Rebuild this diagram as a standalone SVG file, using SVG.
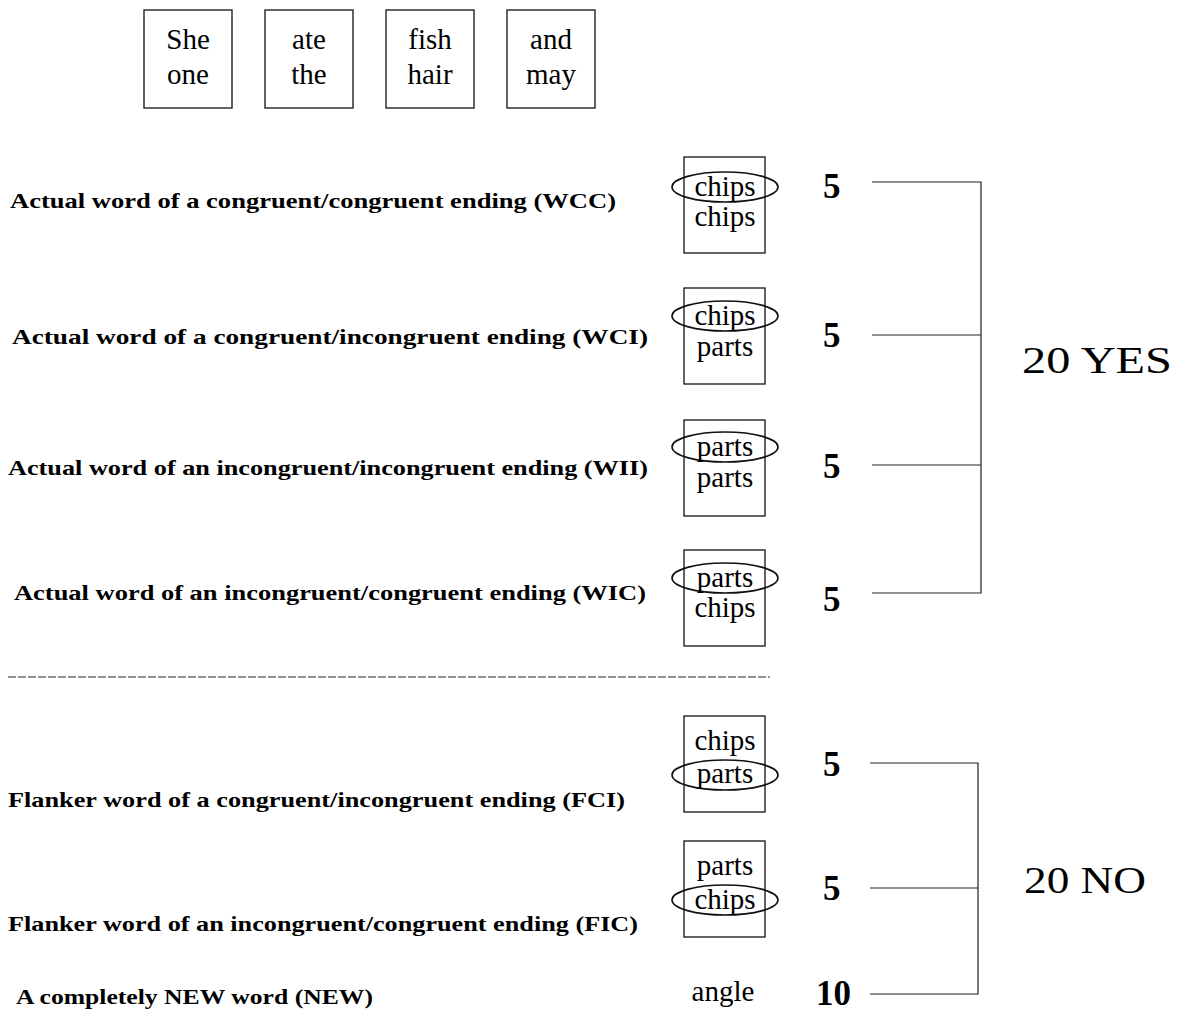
<svg xmlns="http://www.w3.org/2000/svg" width="1183" height="1012" viewBox="0 0 1183 1012">
<style>
.bx{fill:none;stroke:#111;stroke-width:1.3}
.el{fill:none;stroke:#111;stroke-width:1.6}
.w{font-family:"Liberation Serif",serif;font-size:29px;fill:#000;text-anchor:middle}
.lb{font-family:"Liberation Serif",serif;font-size:21.5px;font-weight:bold;fill:#000}
.n{font-family:"Liberation Serif",serif;font-size:35px;font-weight:bold;fill:#000}
.t{font-family:"Liberation Serif",serif;font-size:38px;fill:#000}
.ln{fill:none;stroke:#222;stroke-width:1.2}
</style>
<rect width="1183" height="1012" fill="#fff"/>
<g id="w1"><rect class="bx" x="144" y="10" width="88" height="98"/><text class="w" x="188" y="49">She</text><text class="w" x="188" y="84">one</text></g>
<g id="w2"><rect class="bx" x="265" y="10" width="88" height="98"/><text class="w" x="309" y="49">ate</text><text class="w" x="309" y="84">the</text></g>
<g id="w3"><rect class="bx" x="386" y="10" width="88" height="98"/><text class="w" x="430" y="49">fish</text><text class="w" x="430" y="84">hair</text></g>
<g id="w4"><rect class="bx" x="507" y="10" width="88" height="98"/><text class="w" x="551" y="49">and</text><text class="w" x="551" y="84">may</text></g>

<g id="wcc"><text class="lb" x="10" y="208" textLength="606" lengthAdjust="spacingAndGlyphs">Actual word of a congruent/congruent ending (WCC)</text>
<rect class="bx" x="684" y="157" width="81" height="96"/><ellipse class="el" cx="725" cy="187" rx="53" ry="15"/>
<text class="w" x="725" y="196">chips</text><text class="w" x="725" y="226">chips</text>
<text class="n" x="823" y="198">5</text></g>

<g id="wci"><text class="lb" x="12" y="344" textLength="636" lengthAdjust="spacingAndGlyphs">Actual word of a congruent/incongruent ending (WCI)</text>
<rect class="bx" x="684" y="288" width="81" height="96"/><ellipse class="el" cx="725" cy="316" rx="53" ry="15"/>
<text class="w" x="725" y="325">chips</text><text class="w" x="725" y="356">parts</text>
<text class="n" x="823" y="347">5</text></g>

<g id="wii"><text class="lb" x="8" y="475" textLength="640" lengthAdjust="spacingAndGlyphs">Actual word of an incongruent/incongruent ending (WII)</text>
<rect class="bx" x="684" y="420" width="81" height="96"/><ellipse class="el" cx="725" cy="447" rx="53" ry="15"/>
<text class="w" x="725" y="456">parts</text><text class="w" x="725" y="487">parts</text>
<text class="n" x="823" y="478">5</text></g>

<g id="wic"><text class="lb" x="14" y="600" textLength="632" lengthAdjust="spacingAndGlyphs">Actual word of an incongruent/congruent ending (WIC)</text>
<rect class="bx" x="684" y="550" width="81" height="96"/><ellipse class="el" cx="725" cy="578" rx="53" ry="15"/>
<text class="w" x="725" y="587">parts</text><text class="w" x="725" y="617">chips</text>
<text class="n" x="823" y="611">5</text></g>

<g id="fci"><text class="lb" x="8" y="807" textLength="617" lengthAdjust="spacingAndGlyphs">Flanker word of a congruent/incongruent ending (FCI)</text>
<rect class="bx" x="684" y="716" width="81" height="96"/>
<text class="w" x="725" y="750">chips</text><ellipse class="el" cx="725" cy="775" rx="53" ry="15"/><text class="w" x="725" y="783">parts</text>
<text class="n" x="823" y="776">5</text></g>

<g id="fic"><text class="lb" x="8" y="931" textLength="630" lengthAdjust="spacingAndGlyphs">Flanker word of an incongruent/congruent ending (FIC)</text>
<rect class="bx" x="684" y="841" width="81" height="96"/>
<text class="w" x="725" y="875">parts</text><ellipse class="el" cx="725" cy="900" rx="53" ry="15"/><text class="w" x="725" y="909">chips</text>
<text class="n" x="823" y="900">5</text></g>

<g id="new"><text class="lb" x="16" y="1004" textLength="357" lengthAdjust="spacingAndGlyphs">A completely NEW word (NEW)</text>
<text class="w" x="723" y="1001">angle</text>
<text class="n" x="816" y="1005">10</text></g>

<g id="yes"><text class="t" x="1022" y="373" textLength="150" lengthAdjust="spacingAndGlyphs">20  YES</text></g>
<g id="no"><text class="t" x="1024" y="893" textLength="122" lengthAdjust="spacingAndGlyphs">20  NO</text></g>

<g id="connectors">
<path class="ln" d="M872 182H981V593H872M872 335H981M872 465H981"/>
<path class="ln" d="M870 763H978V994H870M870 888H978"/>
<line class="ln" x1="8" y1="677" x2="770" y2="677" stroke-dasharray="8 2"/>
</g>
</svg>
